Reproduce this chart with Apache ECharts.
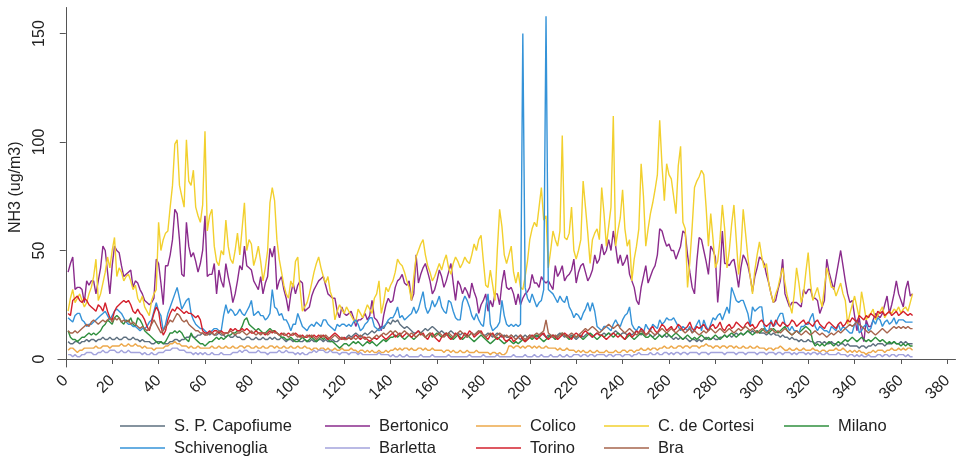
<!DOCTYPE html>
<html>
<head>
<meta charset="utf-8">
<script src="https://cdn.jsdelivr.net/npm/echarts@6/dist/echarts.min.js"></script>
<style>
html,body{margin:0;padding:0;background:#fff;}
#chart{width:957px;height:456px;}
</style>
</head>
<body>
<div id="chart"></div>
<script>
// ---- data (daily NH3, ug/m3), day index 1..365 ----
const seriesNames = ["S. P. Capofiume","Bertonico","Colico","C. de Cortesi","Milano","Schivenoglia","Barletta","Torino","Bra"];
const xTicks = [0,20,40,60,80,100,120,140,160,180,200,220,240,260,280,300,320,340,360,380];
const yTicks = [0,50,100,150];

const capofiume = [
8,7,7,8,8,7,8,8,9,8, 9,9,8,9,9,10,9,9,10,9, 9,10,9,9,10,10,9,9,10,9, 9,8,9,8,8,8,7,7,8,8,
8,7,7,7,8,8,9,9,8,9, 9,10,10,11,10,10,11,11,12,11, 12,11,12,11,11,12,11,11,10,11, 10,10,11,10,10,9,9,10,10,9,
9,10,9,9,10,9,9,10,9,10, 9,9,10,9,8,9,9,8,9,9, 8,8,9,8,8,9,8,8,9,9, 8,9,8,8,9,8,8,9,10,9,
10,11,10,11,12,11,10,11,12,11, 12,13,12,13,14,15,14,16,17,16, 18,17,18,16,15,14,15,14,13,12, 12,13,12,13,14,13,14,15,14,13,
12,13,12,11,12,13,12,11,12,11, 12,11,10,11,12,11,12,13,12,11, 11,12,11,10,11,12,11,10,11,10, 10,11,10,11,10,9,10,11,10,11,
10,11,10,11,12,11,10,11,10,11, 10,11,12,11,10,11,10,11,10,9, 10,11,10,11,12,11,10,11,12,11, 11,12,11,12,11,12,13,12,11,12,
12,11,12,11,12,13,12,11,12,11, 12,11,10,11,12,11,10,11,10,11, 10,9,10,9,10,9,10,9,8,9, 9,8,9,8,9,10,9,9,10,9,
9,10,10,11,10,11,10,11,12,11, 12,11,12,13,12,13,12,13,12,12, 12,11,12,11,12,11,11,10,11,10, 10,9,10,9,9,8,9,8,8,9,
8,8,7,8,8,7,8,7,7,8, 7,7,6,7,7,6,7,6,6,6, 6,5,6,6,5,6,6,7,6,7, 7,7,6,7,7,7,8,7,7,8, 7,8,7,7,7];

const bertonico = [
40,44,47,32,33,33,32,26,36,34, 36,36,30,36,42,52,50,40,30,43, 52,50,49,43,38,39,40,41,33,36, 35,32,30,27,26,25,26,28,46,44,
35,25,43,43,48,55,69,67,55,39, 38,63,52,47,49,45,40,44,50,66, 38,39,39,44,30,41,36,33,44,38, 33,26,30,36,43,41,52,43,42,41,
36,34,32,38,30,35,38,51,47,52, 32,36,38,32,28,22,30,35,30,34, 36,35,22,23,24,29,32,34,36,37, 38,34,30,29,28,28,22,19,24,21,
20,21,22,19,15,18,18,19,21,18, 20,27,19,18,16,13,20,25,28,26, 27,33,36,37,39,35,34,36,27,30, 48,35,39,42,44,40,36,30,32,36,
41,38,33,36,40,44,35,27,36,34, 30,33,31,28,35,31,28,21,25,27, 30,22,27,24,30,30,25,35,41,33, 32,33,30,25,30,25,28,30,31,33,
39,35,35,33,38,36,35,36,34,32, 43,38,40,43,36,38,39,41,46,35, 40,43,44,40,36,38,41,48,44,46, 53,48,50,55,50,59,52,44,48,43,
45,48,39,36,33,27,25,33,38,43, 35,38,41,43,48,60,59,55,52,53, 50,50,46,49,52,59,58,48,40,33, 30,45,56,55,50,45,39,52,50,47,
26,39,59,44,44,43,45,46,40,33, 42,48,46,43,38,31,38,42,47,46, 44,39,35,30,26,27,32,36,46,30, 27,24,26,26,26,25,24,32,30,32,
32,28,28,27,21,24,27,46,40,36, 32,38,44,50,43,36,30,26,27,20, 13,19,12,8,18,15,15,18,21,20, 19,21,25,29,21,25,30,36,30,27, 24,32,36,29,30];

const colico = [
4,5,5,4,3,4,4,5,5,5, 5,5,6,5,5,6,6,6,5,6, 6,6,6,7,6,6,7,6,6,7, 6,6,5,6,5,5,5,4,5,5,
5,5,6,6,7,7,8,7,7,6, 6,6,5,6,5,5,6,5,5,5, 5,5,6,5,5,6,5,5,6,5, 5,6,5,5,6,6,5,6,6,5,
5,6,5,5,6,5,5,6,6,5, 6,5,5,6,5,5,6,5,5,6, 5,5,6,5,5,4,5,5,4,5, 5,4,5,4,4,5,4,4,5,4,
4,4,5,4,4,3,4,4,3,4, 3,4,3,3,4,3,3,4,3,4, 4,5,4,5,4,5,5,4,5,4, 4,5,5,4,5,4,4,5,4,4,
4,4,3,4,4,3,4,3,3,4, 3,3,4,3,3,3,4,3,3,3, 3,3,2,3,3,2,3,2,2,3, 6,6,5,6,6,5,6,5,6,6,
5,6,5,6,5,5,6,5,5,5, 5,4,5,4,4,5,4,4,4,3, 4,3,4,3,3,4,3,3,4,3, 3,3,4,3,3,3,4,3,3,4,
4,3,4,4,3,4,4,5,4,4, 5,4,5,5,4,5,5,6,5,5, 6,5,5,6,6,5,6,6,5,6, 6,6,5,6,6,7,6,6,5,6,
6,5,6,6,5,6,6,5,6,5, 5,6,5,5,6,5,5,6,5,5, 5,4,5,5,4,5,5,6,5,4, 4,5,4,4,5,4,4,5,4,4,
4,5,4,4,3,4,4,3,4,4, 4,5,4,4,5,4,3,4,3,4, 3,4,3,3,2,3,3,4,3,4, 4,4,3,4,4,5,4,4,5,4, 5,4,5,5,4];

const cortesi = [
22,28,32,26,28,30,27,24,26,30, 33,38,46,27,30,35,40,47,42,50, 56,38,42,40,36,38,39,36,32,34, 28,26,29,24,22,20,27,30,32,63,
50,55,58,59,70,80,99,101,80,75, 70,101,82,80,87,70,66,63,71,105, 59,66,69,52,45,43,50,48,64,52, 46,44,50,58,48,60,72,50,55,53,
43,47,52,45,36,42,50,72,79,73, 55,46,40,34,30,28,36,33,45,47, 32,22,24,26,30,35,40,44,47,42, 38,35,38,31,28,18,22,25,23,21,
24,22,20,18,17,23,21,19,22,25, 23,21,28,30,36,21,26,33,31,34, 36,40,46,44,43,40,36,33,27,38, 47,50,53,55,48,43,40,36,38,41,
44,41,45,48,42,39,44,47,45,42, 44,47,45,44,48,53,50,55,57,45, 34,33,41,34,27,50,69,61,48,44, 48,52,40,35,40,33,32,38,45,55,
60,63,61,70,79,64,66,42,50,59, 55,52,59,103,56,55,58,70,50,46, 50,55,82,70,58,44,55,58,60,55, 79,67,52,61,70,112,52,59,65,78,
60,52,55,36,46,52,60,90,75,52, 60,67,72,78,85,110,89,73,90,85, 83,75,67,89,98,63,60,33,45,61, 79,82,84,87,85,70,52,67,55,42,
45,55,71,60,42,50,62,71,55,39, 50,69,58,47,38,30,41,48,54,47, 42,44,35,30,26,30,33,38,42,35, 29,25,21,30,42,35,26,30,40,49,
35,27,30,33,28,24,33,42,38,33, 33,29,32,35,30,27,16,21,25,29, 24,19,31,25,18,20,21,23,18,20, 22,24,19,21,22,21,23,22,24,21, 23,24,22,26,30];

const milano = [
13,10,9,9,8,9,10,10,11,12, 11,12,11,12,13,15,16,18,17,16, 19,20,19,17,16,18,17,19,16,15, 19,18,16,13,12,11,10,9,8,7,
8,7,8,10,12,12,13,12,13,12, 10,9,8,12,10,9,8,7,7,6, 7,8,8,9,10,9,10,9,10,11, 11,12,12,13,13,15,18,19,16,15,
14,13,14,13,12,12,13,14,13,13, 12,11,10,10,9,9,10,9,8,8, 9,10,9,8,9,10,9,8,9,10, 9,10,9,8,8,7,6,5,6,7,
7,6,7,8,7,8,7,6,7,8, 7,8,7,6,7,8,9,8,9,10, 10,11,10,11,10,9,10,11,10,9, 10,11,12,11,10,11,12,10,11,12,
11,10,11,12,11,10,9,10,11,10, 9,10,11,10,9,8,9,10,11,10, 9,8,7,8,9,10,9,8,7,8, 9,8,7,8,7,8,9,8,9,10,
9,10,11,10,9,8,9,10,11,10, 9,10,11,12,11,10,9,10,11,10, 11,10,9,10,11,12,11,10,9,10, 11,10,11,12,11,10,11,12,11,10,
9,10,11,10,9,10,11,12,11,10, 10,11,10,9,10,11,10,11,12,11, 10,11,12,11,10,9,10,11,10,9, 10,9,10,11,10,9,10,9,10,11,
10,9,10,11,10,11,12,11,10,11, 12,11,12,13,12,11,12,13,12,13, 14,13,12,13,14,13,12,13,14,15, 13,12,11,12,13,12,13,14,15,14,
13,8,6,7,6,7,6,7,8,7, 6,7,8,7,8,9,8,9,10,9, 8,9,10,9,8,9,8,9,10,9, 8,9,8,7,8,7,8,7,7,6, 7,6,7,6,6];

const schivenoglia = [
19,18,17,20,21,21,18,17,15,16, 16,17,18,19,20,21,22,20,18,20, 22,23,22,21,19,17,16,16,15,15, 14,13,14,14,15,17,18,22,26,22,
20,13,16,21,24,27,30,33,28,23, 25,27,28,21,18,16,15,14,14,13, 12,12,13,14,14,13,13,20,25,21, 23,22,20,21,23,21,20,22,24,27,
20,21,22,20,20,18,19,21,32,24, 23,20,21,18,18,16,13,16,16,21, 18,15,14,13,15,16,15,17,16,15, 18,18,16,15,14,13,16,15,16,16,
15,16,15,17,18,16,13,14,16,17, 19,19,15,14,13,14,15,16,18,19, 19,21,24,19,20,18,19,20,21,24, 21,23,27,31,24,21,23,27,24,26,
29,24,22,21,27,26,22,19,18,18, 26,29,27,24,20,18,21,18,16,15, 24,30,16,13,14,15,17,27,20,16, 15,16,15,16,15,16,150,33,28,26,
30,27,24,26,27,32,158,32,31,30, 28,26,29,27,26,29,24,22,19,21, 20,18,21,23,26,22,26,22,15,14, 13,15,15,14,13,16,18,16,15,18,
20,21,24,16,14,13,15,14,12,16, 14,13,16,15,14,18,16,17,19,18, 18,19,17,15,13,15,14,13,15,12, 14,16,18,13,18,15,13,16,19,18,
20,21,18,21,24,21,33,30,27,26, 27,27,24,21,15,24,22,23,24,24, 15,13,13,18,15,16,19,21,21,16, 15,13,15,13,13,12,15,15,16,16,
19,21,15,13,15,14,13,13,12,15, 14,13,16,13,15,14,13,12,12,16, 18,12,13,15,16,13,14,18,16,19, 18,15,17,18,16,17,19,16,18,18, 18,17,17,17,17];

const barletta = [
2,2,1,2,1,1,2,2,3,3, 3,2,2,3,3,4,3,3,4,4, 4,3,3,4,3,3,4,3,3,3, 3,3,2,3,2,2,3,2,2,3,
3,3,4,4,4,5,5,5,4,4, 4,3,3,3,2,3,2,3,2,3, 2,2,3,2,2,2,3,2,2,2, 2,3,3,3,4,3,4,4,3,3,
3,3,4,3,3,3,2,3,3,3, 3,4,3,3,4,3,3,3,2,3, 2,3,2,2,3,3,4,3,4,4, 4,3,3,4,3,3,3,2,3,3,
3,2,3,3,3,2,3,2,2,2, 2,2,2,2,3,2,2,2,2,1, 2,1,1,2,1,1,2,1,1,1, 1,1,2,1,1,1,1,2,1,1,
1,1,1,1,2,1,1,1,1,1, 1,1,1,2,1,1,1,1,1,2, 1,1,1,1,1,2,1,1,1,1, 1,1,2,1,1,1,1,2,1,1,
1,2,1,1,2,1,1,1,2,1, 1,1,2,1,1,2,1,1,2,2, 2,1,2,2,1,2,2,1,2,2, 2,2,1,2,2,1,2,2,2,1,
2,2,2,1,2,2,3,2,2,2, 2,3,2,2,3,2,2,3,3,2, 3,2,3,3,2,3,3,2,3,3, 3,3,2,3,3,3,2,3,3,3,
3,3,3,2,3,3,3,3,2,3, 3,3,2,3,3,3,3,2,3,3, 3,2,3,3,3,2,3,3,2,3, 3,3,2,3,2,3,3,3,2,3,
2,3,3,2,3,2,2,3,2,2, 2,2,3,2,2,2,1,2,2,1, 2,1,2,1,1,2,1,1,1,2, 2,1,2,2,1,2,2,1,2,2, 2,1,2,1,1];

const torino = [
21,20,27,28,29,27,26,28,27,25, 24,23,22,25,24,22,26,22,19,18, 22,24,25,26,27,26,27,25,22,21, 23,21,20,18,15,13,17,21,24,22,
15,11,13,18,21,23,22,24,23,22, 21,22,21,21,20,19,20,18,13,12, 12,13,12,13,13,12,13,12,12,12, 14,13,14,13,13,14,13,14,13,12,
12,13,12,12,12,11,12,13,12,13, 12,11,12,11,11,12,11,11,12,11, 10,11,10,10,11,10,11,10,11,10, 11,10,9,10,11,12,11,10,9,10,
9,10,9,10,11,10,9,10,10,9, 8,9,10,9,10,11,10,9,10,11, 12,10,11,12,10,11,12,11,10,11, 12,13,11,12,10,9,11,12,10,9,
8,10,11,12,10,9,10,12,11,9, 10,12,11,13,12,10,11,12,13,11, 10,9,11,12,10,9,10,11,9,8, 9,10,8,9,10,11,9,8,9,10,
11,10,9,10,11,12,10,9,10,11, 10,9,10,11,12,11,10,9,11,12, 11,10,12,13,12,11,10,11,12,11, 11,10,9,10,11,12,11,10,11,10,
9,11,12,10,11,13,12,14,13,11, 12,14,15,13,12,14,16,15,13,14, 15,13,14,16,15,13,14,15,17,14, 13,15,14,15,16,14,13,15,16,14,
15,17,14,13,15,16,14,15,17,16, 15,14,16,17,15,16,14,15,17,18, 16,15,16,17,15,18,16,15,17,16, 15,16,18,17,15,16,17,18,16,17,
16,15,17,18,16,15,14,16,17,16, 15,14,16,17,15,16,18,17,19,18, 17,20,19,18,20,19,21,20,19,22, 21,22,20,21,22,20,21,22,20,21, 22,21,20,21,20];

const bra = [
13,12,12,13,12,13,14,15,16,15, 17,18,17,16,17,18,17,18,19,17, 19,18,19,17,18,17,18,16,17,16, 15,14,15,14,13,14,16,18,16,14,
12,13,15,16,18,17,19,21,20,18, 17,18,16,15,14,13,13,12,12,11, 11,12,12,11,12,13,12,11,12,12, 13,12,11,12,12,13,12,11,12,13,
12,11,12,11,12,12,11,12,13,12, 12,11,11,12,11,10,11,12,11,10, 11,10,10,11,10,11,10,9,10,11, 10,11,10,9,10,11,10,9,10,9,
9,10,9,10,9,10,11,10,9,10, 10,9,10,11,10,11,12,11,12,13, 12,13,12,11,12,13,12,11,12,11, 10,11,12,11,10,11,12,11,10,11,
12,11,10,11,12,11,10,11,12,13, 12,11,10,11,12,11,12,13,12,11, 10,11,12,11,10,11,12,11,10,11, 10,11,10,9,10,11,10,9,10,11,
10,11,12,11,12,13,18,12,11,10, 11,10,11,12,11,10,11,12,11,10, 11,12,13,14,13,14,15,14,13,12, 13,14,15,16,15,14,15,16,14,13,
12,13,14,13,12,11,12,13,12,11, 12,13,12,11,12,13,14,13,12,13, 14,13,12,13,14,13,12,13,14,12, 13,12,11,12,13,12,13,14,13,12,
13,14,13,12,13,14,13,12,13,14, 13,14,15,14,13,14,13,12,13,14, 13,12,13,14,13,12,13,12,13,14, 13,12,11,12,13,12,11,12,13,12,
11,12,13,12,11,12,11,10,11,12, 11,12,13,12,13,14,15,16,15,16, 17,16,15,14,13,12,13,12,11,12, 13,14,13,12,13,14,15,14,15,14, 15,14,15,14,14];

const seriesValues = [capofiume, bertonico, colico, cortesi, milano, schivenoglia, barletta, torino, bra];
const seriesColors = ["#5d6f7f","#8a2b8c","#eda84a","#f2d02e","#2f8f3e","#3593d8","#a3a3dc","#d3202c","#a6644c"];

const FONT = '"Liberation Sans", Arial, sans-serif';

const chart = echarts.init(document.getElementById('chart'), null, {renderer: 'canvas'});

const series = seriesNames.map((name, i) => ({
  name: name,
  type: 'line',
  showSymbol: false,
  symbol: 'none',
  data: seriesValues[i].map((v, j) => [j + 1, v]),
  lineStyle: {width: 1.4, color: seriesColors[i]},
  itemStyle: {color: seriesColors[i]},
  z: 2 + i
}));

// one legend component per entry, laid out in a 5-column grid (2 rows)
const legendLefts = [120, 325, 476, 604, 784];
const legendRowTops = [417, 439];
const legends = seriesNames.map((name, i) => ({
  orient: 'horizontal',
  left: legendLefts[i % 5],
  top: legendRowTops[Math.floor(i / 5)],
  itemWidth: 45,
  itemHeight: 1.6,
  icon: 'rect',
  selectedMode: false,
  padding: 0,
  textStyle: {fontFamily: FONT, fontSize: 16.5, color: '#222', lineHeight: 18, padding: [0,0,0,4]},
  data: [name]
}));

chart.setOption({
  animation: false,
  backgroundColor: '#fff',
  grid: {left: 52, right: 1.5, top: 7.5, bottom: 89, containLabel: false},
  xAxis: {
    type: 'value',
    min: -3.4,
    max: 383.5,
    axisLine: {show: true, lineStyle: {color: '#555', width: 1}},
    axisTick: {show: true, length: 5, lineStyle: {color: '#555'}, customValues: xTicks},
    axisLabel: {rotate: 45, fontFamily: FONT, fontSize: 16, color: '#222', margin: 11, customValues: xTicks},
    splitLine: {show: false}
  },
  yAxis: {
    type: 'value',
    min: -3.7,
    max: 162,
    name: 'NH3 (ug/m3)',
    nameLocation: 'middle',
    nameGap: 25,
    nameRotate: 90,
    nameTextStyle: {fontFamily: FONT, fontSize: 16, color: '#222'},
    axisLine: {show: true, lineStyle: {color: '#555', width: 1}},
    axisTick: {show: true, length: 6, lineStyle: {color: '#555'}, customValues: yTicks},
    axisLabel: {rotate: 90, fontFamily: FONT, fontSize: 16, color: '#222', margin: 10, customValues: yTicks},
    splitLine: {show: false}
  },
  legend: legends,
  series: series
});
</script>
</body>
</html>
